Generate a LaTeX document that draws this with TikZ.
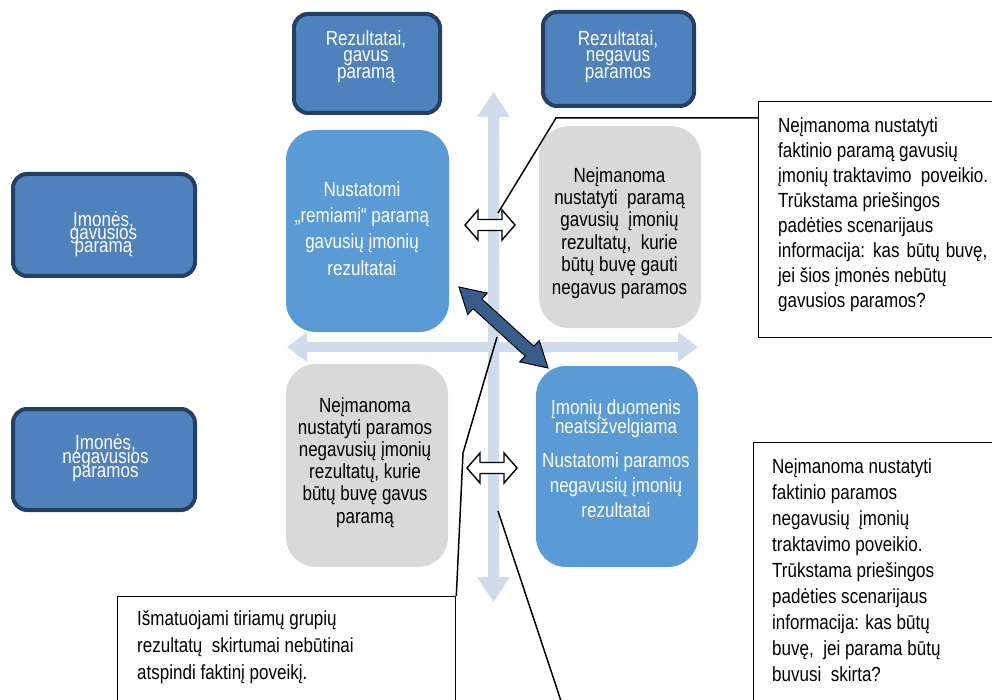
\documentclass[tikz,border=0pt]{standalone}
\usepackage{fontspec}
\setmainfont{Liberation Sans}[FakeStretch=0.83]
\usetikzlibrary{calc}
\definecolor{navyedge}{RGB}{37,64,97}
\definecolor{hdrblue}{RGB}{79,129,189}
\definecolor{cellblue}{RGB}{91,155,213}
\definecolor{cellgrey}{RGB}{217,217,217}
\definecolor{axisblue}{RGB}{208,220,236}
\definecolor{linkblue}{RGB}{56,93,138}
\begin{document}
\begin{tikzpicture}[x=1pt,y=-1pt,
  hdrbox/.style={draw=navyedge, line width=4pt, fill=hdrblue, rounded corners=14pt, inner sep=0pt},
  cell/.style={rounded corners=30pt, inner sep=0pt, minimum width=162pt, minimum height=202pt},
  lbl/.style={align=center, inner sep=0pt, font={\fontsize{20.5}{#1}\selectfont\lineskiplimit=-100pt\relax}},
  note/.style={draw=black, line width=1.3pt, fill=white, inner sep=0pt, anchor=north west},
  notetext/.style={align=left, anchor=north west, inner sep=0pt, font={\fontsize{20.5}{#1}\selectfont\lineskiplimit=-100pt\relax}},
  pointer/.style={draw=black, line width=1.5pt, line join=miter},
  axis/.style={fill=axisblue},
  hollowarrow/.pic={\draw[line width=1.4pt, fill=white, line join=miter]
      (-25,0) -- (-12,-15) -- (-12,-5.5) -- (12,-5.5) -- (12,-15) -- (25,0)
      -- (12,15) -- (12,5.5) -- (-12,5.5) -- (-12,15) -- cycle;}
]
\useasboundingbox (0,0) rectangle (992,700);

% quadrant axes (double-headed block arrows)
\fill[axis] (493.5,92) -- (510,117) -- (499,117) -- (499,577) -- (510,577) -- (493.5,602)
   -- (477,577) -- (488,577) -- (488,117) -- (477,117) -- cycle;
\fill[axis] (287,347) -- (307,332) -- (307,342) -- (678,342) -- (678,332) -- (698,347)
   -- (678,362) -- (678,352) -- (307,352) -- (307,362) -- cycle;

% column headers
\node[hdrbox, minimum width=146pt, minimum height=99pt] (colA) at (367,63.5) {};
\node[lbl=16.5, text=white] (colAtxt) at (366,56.3) {Rezultatai,\\gavus\\paramą};
\node[hdrbox, minimum width=151pt, minimum height=94pt] (colB) at (618.5,59) {};
\node[lbl=16.5, text=white] (colBtxt) at (618,56.3) {Rezultatai,\\negavus\\paramos};

% row headers
\node[hdrbox, minimum width=182pt, minimum height=102pt] (rowA) at (104,225) {};
\node[lbl=13, text=white] (rowAtxt) at (103.5,234.7) {Įmonės,\\gavusios\\paramą};
\node[hdrbox, minimum width=182pt, minimum height=101pt] (rowB) at (104,459.5) {};
\node[lbl=14, text=white] (rowBtxt) at (105.5,457.7) {Įmonės,\\negavusios\\paramos};

% quadrant cells
\node[cell, fill=cellblue, minimum width=163pt] (cellTL) at (367.5,231) {};
\node[lbl=26.3, text=white] (cellTLtxt) at (362,228.3)
  {Nustatomi\\„remiami“ paramą\\gavusių įmonių\\rezultatai};
\node[cell, fill=cellgrey] (cellTR) at (620,227) {};
\node[lbl=22.4, text=black] (cellTRtxt) at (619.5,232.8)
  {Neįmanoma\\nustatyti~ paramą\\gavusių~ įmonių\\rezultatų,~ kurie\\būtų buvę gauti\\negavus paramos};
\node[cell, fill=cellgrey, minimum height=203pt] (cellBL) at (367,465.5) {};
\node[lbl=22.2, text=black] (cellBLtxt) at (365,462.3)
  {Neįmanoma\\nustatyti paramos\\negavusių įmonių\\rezultatų, kurie\\būtų buvę gavus\\paramą};
\node[cell, fill=cellblue, minimum height=201pt] (cellBR) at (617,466.5) {};
\node[lbl=25, text=white] (cellBRtxt) at (616,458.2)
  {Įmonių duomenis\\[-6pt]neatsižvelgiama\\[9pt]Nustatomi paramos\\negavusių įmonių\\rezultatai};

% callout boxes
\node[note, minimum width=250pt, minimum height=236pt] (noteTR) at (758,101) {};
\node[notetext=25] (noteTRtxt) at (778,117.3)
  {Neįmanoma nustatyti\\faktinio paramą gavusių\\įmonių traktavimo~ poveikio.\\Trūkstama priešingos\\padėties scenarijaus\\informacija:\hspace{8pt}kas\hspace{7pt}būtų\hspace{6pt}buvę,\\jei šios įmonės nebūtų\\gavusios paramos?};
\node[note, minimum width=250pt, minimum height=270pt] (noteBR) at (753,442) {};
\node[notetext=26] (noteBRtxt) at (772,458.3)
  {Neįmanoma nustatyti\\faktinio paramos\\negavusių~ įmonių\\traktavimo poveikio.\\Trūkstama priešingos\\padėties scenarijaus\\informacija: kas būtų\\buvę,~ jei parama būtų\\buvusi~ skirta?};
\node[note, minimum width=338pt, minimum height=120pt] (noteBL) at (117,596) {};
\node[notetext=26.6] (noteBLtxt) at (137,610.8)
  {Išmatuojami tiriamų grupių\\rezultatų~ skirtumai nebūtinai\\atspindi faktinį poveikį.};

% callout pointers
\coordinate (tipTR) at (498,213);
\coordinate (tipBR) at (498,511);
\coordinate (tipBL) at (497,337);
\draw[pointer] (758,118) -- (556,118) -- (tipTR);
\draw[pointer] (tipBR) -- (564,710);
\draw[pointer] (noteBL.north east) -- (463,453) -- (tipBL);

% comparison arrows between neighbouring cells
\pic (cmpTop) at (490,225) {hollowarrow};
\pic (cmpBot) at (492,468) {hollowarrow};

% diagonal link between the two observed cells
\coordinate (dA) at (459,287);
\coordinate (dB) at (548,368);
\coordinate (hA) at ($(dA)!25pt!(dB)$);
\coordinate (hB) at ($(dB)!25pt!(dA)$);
\filldraw[fill=linkblue, draw=black, line width=1pt, line join=miter]
  (dA) -- ($(hA)!14.5pt!90:(dB)$) -- ($(hA)!6.5pt!90:(dB)$)
  -- ($(hB)!6.5pt!-90:(dA)$) -- ($(hB)!14.5pt!-90:(dA)$) -- (dB)
  -- ($(hB)!14.5pt!90:(dA)$) -- ($(hB)!6.5pt!90:(dA)$)
  -- ($(hA)!6.5pt!-90:(dB)$) -- ($(hA)!14.5pt!-90:(dB)$) -- cycle;
\end{tikzpicture}
\end{document}
